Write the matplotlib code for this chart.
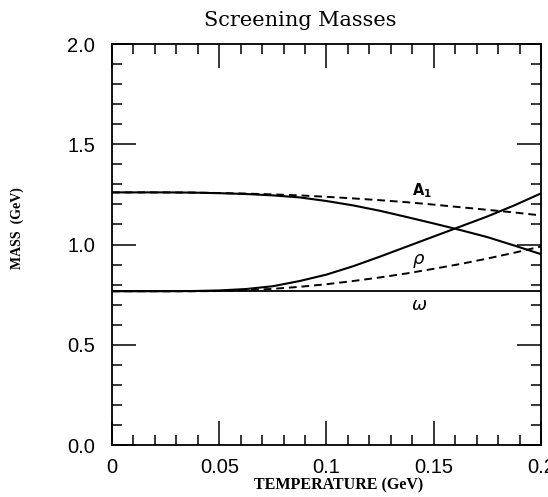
import matplotlib
matplotlib.use("Agg")
import matplotlib.pyplot as plt
from matplotlib.ticker import MultipleLocator

# temperature grid (GeV) and screening masses (GeV)
temperature = [0.0, 0.0125, 0.025, 0.0375, 0.05, 0.0625, 0.075, 0.0875, 0.1,
               0.1125, 0.125, 0.1375, 0.15, 0.1625, 0.175, 0.1875, 0.2]
a1_solid = [1.26, 1.26, 1.26, 1.259, 1.256, 1.252, 1.245, 1.235, 1.217,
            1.195, 1.168, 1.137, 1.105, 1.072, 1.037, 0.995, 0.952]
a1_dashed = [1.26, 1.26, 1.26, 1.259, 1.257, 1.254, 1.25, 1.245, 1.238,
             1.23, 1.221, 1.211, 1.199, 1.186, 1.173, 1.16, 1.145]
rho_solid = [0.767, 0.767, 0.767, 0.768, 0.771, 0.778, 0.792, 0.818, 0.85,
             0.892, 0.94, 0.99, 1.04, 1.09, 1.14, 1.195, 1.255]
rho_dashed = [0.767, 0.767, 0.767, 0.767, 0.768, 0.772, 0.779, 0.789, 0.802,
              0.818, 0.836, 0.856, 0.879, 0.903, 0.93, 0.959, 0.99]
omega = [0.767] * len(temperature)

fig = plt.figure(figsize=(5.48, 4.97), dpi=100)
ax = fig.add_axes([0.2044, 0.1046, 0.7828, 0.8068])

dash = (0, (4, 2.5))
ax.plot(temperature, a1_solid, color='black', lw=1.5)
ax.plot(temperature, a1_dashed, color='black', lw=1.4, ls=dash)
ax.plot(temperature, rho_solid, color='black', lw=1.5)
ax.plot(temperature, rho_dashed, color='black', lw=1.4, ls=dash)
ax.plot(temperature, omega, color='black', lw=1.3)

# curve labels
ax.text(0.1447, 1.267, r'$\mathbf{A_1}$', fontsize=10.5, ha='center', va='center')
ax.text(0.1430, 0.917, r'$\rho$', fontsize=13, ha='center', va='center')
ax.text(0.1430, 0.70, r'$\omega$', fontsize=13, ha='center', va='center')

ax.set_xlim(0, 0.2)
ax.set_ylim(0, 2.0)
ax.xaxis.set_minor_locator(MultipleLocator(0.01))
ax.yaxis.set_minor_locator(MultipleLocator(0.1))
ax.set_xticks([0, 0.05, 0.1, 0.15, 0.2])
ax.set_xticklabels(['0', '0.05', '0.1', '0.15', '0.2'])
ax.set_yticks([0, 0.5, 1.0, 1.5, 2.0])
ax.set_yticklabels(['0.0', '0.5', '1.0', '1.5', '2.0'])

ax.tick_params(which='both', direction='in', top=True, right=True, width=1.1)
ax.tick_params(which='major', length=17, labelsize=14.5)
ax.tick_params(axis='x', which='major', pad=9)
ax.tick_params(axis='y', which='major', pad=12)
ax.tick_params(which='minor', length=7)
for lab in ax.get_xticklabels() + ax.get_yticklabels():
    lab.set_family('Liberation Sans')
for sp in ax.spines.values():
    sp.set_linewidth(1.3)

fig.text(339 / 548, 1 - 485 / 497, 'TEMPERATURE (GeV)', family='Liberation Serif',
         fontweight='bold', fontsize=11.5, ha='center', va='center')
fig.text(17 / 548, 1 - 228 / 497, 'MASS  (GeV)', family='Liberation Serif',
         fontweight='bold', fontsize=10, rotation=90, ha='center', va='center')
fig.text(300 / 548, 1 - 20 / 497, 'Screening Masses', family='DejaVu Serif',
         fontsize=15, ha='center', va='center')

fig.savefig('out.png', dpi=100)
